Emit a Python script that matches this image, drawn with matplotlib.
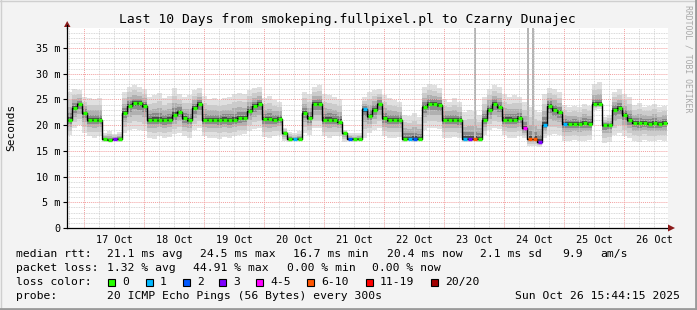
import numpy as np
import matplotlib
matplotlib.use('Agg')
import matplotlib.pyplot as plt
from matplotlib.collections import LineCollection
from matplotlib.lines import Line2D
from matplotlib.patches import Rectangle, Polygon

plt.rcParams['font.family'] = ['DejaVu Sans Mono']

''' data: 2 hour samples, time in days from 17 Oct 00:00 '''
start_day = -0.2833
step_days = 2 / 24.

median_ms = [21.0, 23.4, 24.1, 22.3, 21.0, 21.1, 21.0, 17.3, 17.2, 17.3,
             17.3, 22.3, 23.8, 24.3, 24.3, 23.8, 21.0, 21.1, 21.0, 21.0,
             21.1, 22.0, 22.6, 21.3, 21.0, 23.3, 24.1, 21.0, 21.1, 21.0,
             21.0, 21.1, 21.0, 21.0, 21.3, 21.3, 22.8, 23.7, 24.1, 21.2,
             21.2, 21.1, 21.2, 18.4, 17.3, 17.3, 17.3, 22.3, 21.3, 24.1,
             24.1, 21.0, 21.1, 21.0, 20.7, 18.4, 17.3, 17.3, 17.3, 23.1,
             21.8, 23.0, 24.1, 21.3, 21.0, 21.1, 21.0, 17.3, 17.3, 17.3,
             17.3, 23.6, 24.1, 24.1, 24.0, 21.0, 21.1, 21.0, 21.0, 17.3,
             17.3, 17.3, 17.3, 21.0, 23.0, 24.1, 23.6, 21.0, 21.1, 21.0,
             21.3, 19.4, 17.3, 17.3, 16.7, 20.0, 23.8, 23.0, 22.6, 20.2,
             20.2, 20.3, 20.2, 20.4, 20.3, 24.1, 24.1, 20.0, 20.0, 23.0,
             23.3, 22.0, 21.0, 20.5, 20.4, 20.5, 20.3, 20.4, 20.2, 20.4]

smoke_hi = [26.5, 27.0, 26.8, 25.5, 25.3, 25.0, 25.2, 18.5, 18.8, 18.3,
            18.6, 26.5, 27.5, 27.8, 27.4, 27.0, 25.5, 25.8, 26.2, 25.3,
            25.6, 27.2, 26.0, 25.5, 25.8, 26.8, 27.3, 25.6, 25.0, 25.3,
            24.8, 25.2, 25.5, 26.0, 26.2, 26.0, 26.8, 27.3, 27.5, 25.3,
            25.6, 24.8, 24.5, 19.5, 18.6, 18.4, 18.8, 26.5, 26.0, 27.5,
            27.8, 26.0, 25.8, 25.5, 25.0, 19.0, 18.5, 18.4, 18.5, 25.5,
            26.5, 26.8, 27.0, 25.8, 25.2, 24.8, 24.6, 22.0, 21.8, 22.3,
            21.5, 27.5, 28.0, 27.8, 27.2, 25.0, 24.6, 25.3, 24.5, 22.5,
            23.0, 22.8, 22.0, 25.5, 27.0, 27.8, 27.5, 26.0, 25.5, 25.8,
            25.5, 24.5, 23.5, 23.0, 22.5, 26.0, 27.3, 27.0, 26.5, 24.0,
            23.6, 23.8, 23.5, 24.2, 23.8, 28.0, 28.3, 21.5, 22.0, 26.5,
            27.0, 26.0, 25.5, 24.0, 24.3, 23.6, 23.8, 24.2, 23.5, 23.8]

smoke_lo = [18.0, 19.5, 20.0, 18.5, 17.8, 17.6, 17.8, 16.8, 16.9, 16.9,
            16.8, 18.5, 19.0, 19.3, 19.0, 18.8, 17.6, 17.4, 17.8, 17.5,
            17.7, 18.2, 18.5, 17.8, 17.6, 19.0, 19.5, 17.8, 17.5, 17.6,
            17.4, 17.7, 17.5, 17.8, 18.0, 18.2, 18.8, 19.2, 19.5, 17.7,
            17.5, 17.8, 18.0, 16.9, 16.8, 16.9, 17.0, 18.5, 18.0, 19.5,
            19.5, 17.8, 17.6, 17.8, 17.8, 16.8, 16.9, 16.8, 16.9, 17.5,
            18.5, 19.0, 19.5, 17.8, 17.6, 17.5, 17.7, 16.8, 16.9, 16.8,
            16.9, 19.0, 19.5, 19.5, 19.3, 17.6, 17.5, 17.7, 17.5, 16.8,
            16.8, 16.9, 16.8, 18.0, 19.0, 19.5, 19.2, 18.0, 17.6, 17.6,
            17.8, 17.5, 16.0, 15.9, 15.8, 17.5, 18.0, 18.3, 18.0, 17.0,
            16.9, 17.1, 17.0, 16.9, 17.2, 23.0, 23.2, 16.5, 16.8, 18.0,
            18.5, 17.8, 17.5, 17.0, 16.8, 17.2, 17.0, 16.9, 17.1, 17.0]

# lost pings (of 20) per sample, index -> count
loss_events = {9: 3, 45: 1, 56: 2, 59: 1, 68: 1, 69: 2, 79: 1, 80: 3, 81: 6,
               91: 4, 92: 6, 93: 6, 94: 3, 95: 1, 99: 1}

# single outlier pings far above the range
spike_day = [6.517, 7.40, 7.483]
spike_top = [60.0, 60.0, 60.0]
spike_bottom = [17.5, 17.0, 17.0]

day_labels = ['17 Oct', '18 Oct', '19 Oct', '20 Oct', '21 Oct',
              '22 Oct', '23 Oct', '24 Oct', '25 Oct', '26 Oct']

loss_names = ['0', '1', '2', '3', '4-5', '6-10', '11-19', '20/20']
loss_colors = ['#26ff00', '#00b8ff', '#0059ff', '#7e00ff', '#ff00ff', '#ff5500', '#ff0000', '#a10000']


def loss_color(n):
    if n == 0: return loss_colors[0]
    if n <= 3: return loss_colors[n]
    if n <= 5: return loss_colors[4]
    if n <= 10: return loss_colors[5]
    if n <= 19: return loss_colors[6]
    return loss_colors[7]


W, H = 697, 310
fig = plt.figure(figsize=(W / 100., H / 100.), dpi=100, facecolor='#f3f3f3')
ax = fig.add_axes([67. / W, 82. / H, 601. / W, 200. / H])
ax.set_facecolor('white')

n = len(median_ms)
med = np.array(median_ms)
hi = np.array(smoke_hi)
lo = np.array(smoke_lo)
t = start_day + step_days * np.arange(n + 1)

''' smoke: nested bands, darker towards the median '''
fracs = [1.0, 0.7, 0.45, 0.25, 0.1]
shades = ['#e0e0e0', '#cbcbcb', '#b0b0b0', '#8a8a8a', '#4a4a4a']
for f, c in zip(fracs, shades):
    b_lo = med - f * (med - lo)
    b_hi = med + f * (hi - med)
    ax.fill_between(t, np.append(b_lo, b_lo[-1]), np.append(b_hi, b_hi[-1]),
                    step='post', color=c, lw=0, zorder=1)

ax.bar(spike_day, np.array(spike_top) - np.array(spike_bottom), bottom=spike_bottom,
       width=2.5 / 60., color='#b4b4b4', lw=0, zorder=1.5)

''' grid '''
dot = (0, (1, 1))
for v in np.arange(1, 39):
    if v % 5 == 0:
        ax.axhline(v, color='#f2a0a0', lw=0.7, ls=dot, zorder=2.2)
    else:
        ax.axhline(v, color='#cccccc', lw=0.6, ls=dot, zorder=2)
for d in np.arange(-0.25, 9.75, 0.25):
    if abs(d - round(d)) < 1e-6:
        ax.axvline(d, color='#f2a0a0', lw=0.7, ls=dot, zorder=2.2)
    else:
        ax.axvline(d, color='#cccccc', lw=0.6, ls=dot, zorder=2)

''' median: black steps plus loss coloured dashes '''
ax.step(t, np.append(med, med[-1]), where='post', color='black', lw=1.0, zorder=3)
segs = []
cols = []
for i in range(n):
    segs.append([(t[i] + 0.6 / 60., med[i]), (t[i + 1] - 0.3 / 60., med[i])])
    cols.append(loss_color(loss_events.get(i, 0)))
ax.add_collection(LineCollection(segs, colors=cols, linewidths=2.4, zorder=4))

ax.set_xlim(-17 / 60., 584 / 60.)
ax.set_ylim(0, 38.9)

for s in ['top', 'right']:
    ax.spines[s].set_visible(False)
for s in ['left', 'bottom']:
    ax.spines[s].set_color('black')
    ax.spines[s].set_linewidth(0.9)

ax.set_yticks(range(0, 36, 5))
ax.set_yticklabels(['0'] + ['%d m' % v for v in range(5, 36, 5)], fontsize=7.3)
ax.tick_params(axis='y', direction='out', length=3, width=0.8, pad=2)
ax.set_xticks(np.arange(10) + 0.5)
ax.set_xticklabels(day_labels, fontsize=7.3)
ax.tick_params(axis='x', length=0, pad=5)

''' arrows on the axes (figure pixel coords) '''
def px(x, y):
    return (x / W, 1 - y / H)

fig.add_artist(Polygon([px(64, 27), px(70.5, 27), px(67.2, 21)], closed=True,
                       transform=fig.transFigure, color='#8b1a1a', lw=0))
fig.add_artist(Line2D([px(67.2, 28)[0]] * 2, [px(0, 28)[1], px(0, 25)[1]],
                      transform=fig.transFigure, color='black', lw=0.9))
fig.add_artist(Polygon([px(668, 224.5), px(668, 231.5), px(675, 228)], closed=True,
                       transform=fig.transFigure, color='#8b1a1a', lw=0))

fig.text(347.5 / W, 1 - 19.5 / H, 'Last 10 Days from smokeping.fullpixel.pl to Czarny Dunajec',
         ha='center', va='center', fontsize=9.4)
fig.text(11 / W, 1 - 127 / H, 'Seconds', rotation=90, ha='center', va='center', fontsize=8)
fig.text(688 / W, 1 - 5 / H, 'RRDTOOL / TOBI OETIKER', rotation=270, ha='center', va='top',
         fontsize=5.9, color='#a8a8a8')

fs = 8.2
def put(x, y, s, **kw):
    fig.text(x / W, 1 - y / H, s, va='center', ha='left', fontsize=fs, **kw)

put(16, 254, 'median rtt:')
for x, s in [(107, '21.1 ms avg'), (200, '24.5 ms max'), (293, '16.7 ms min'),
             (387, '20.4 ms now'), (480, '2.1 ms sd'), (562, '9.9'), (600, 'am/s')]:
    put(x, 254, s)
put(16, 268, 'packet loss:')
for x, s in [(107, '1.32 % avg'), (193, '44.91 % max'), (287, '0.00 % min'), (372, '0.00 % now')]:
    put(x, 268, s)
put(16, 282, 'loss color:')
box_x = [108, 146, 183, 219, 256, 307, 366, 431]
for bx, name, c in zip(box_x, loss_names, loss_colors):
    fig.add_artist(Rectangle(px(bx, 285.5), 7 / W, 7 / H, transform=fig.transFigure,
                             facecolor=c, edgecolor='black', lw=0.8))
    put(bx + 14, 282, name)
put(16, 296, 'probe:')
put(107, 296, '20 ICMP Echo Pings (56 Bytes) every 300s')
fig.text(680 / W, 1 - 296 / H, 'Sun Oct 26 15:44:15 2025', va='center', ha='right', fontsize=fs)

''' frame round the image '''
fig.add_artist(Line2D([0, 1], [1 - 0.5 / H] * 2, transform=fig.transFigure, color='#cfcfcf', lw=1))
fig.add_artist(Line2D([0.5 / W] * 2, [0, 1], transform=fig.transFigure, color='#cfcfcf', lw=1))
fig.add_artist(Line2D([0, 1], [1.0 / H] * 2, transform=fig.transFigure, color='#9a9a9a', lw=2))
fig.add_artist(Line2D([1 - 1.0 / W] * 2, [0, 1], transform=fig.transFigure, color='#9a9a9a', lw=2))

plt.savefig('out.png', dpi=100, facecolor=fig.get_facecolor())
plt.close()
